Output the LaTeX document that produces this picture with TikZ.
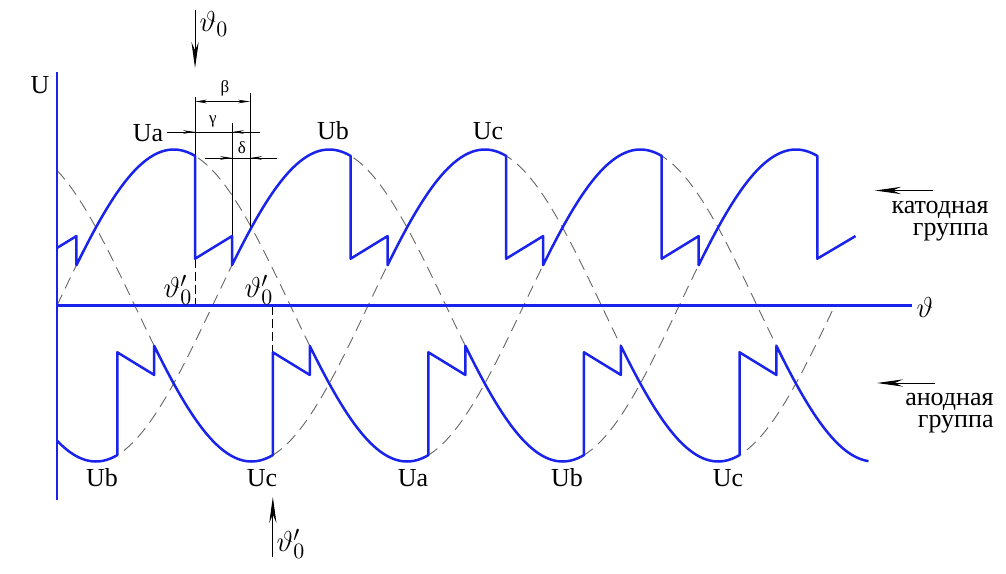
\documentclass[tikz,border=0pt]{standalone}
\usepackage{fontspec}
\setmainfont{Liberation Serif}
\usepackage{xcolor}
\usetikzlibrary{arrows.meta}
\definecolor{waveblue}{RGB}{25,35,235}

\begin{document}
\begin{tikzpicture}[x=0.5pt,y=0.5pt,
  declare function={px(\t)=57+1.2963*\t; py(\v)=-305.5+156*\v;},
  wave/.style={waveblue,line width=1.25pt,line join=round,samples=40},
  axisline/.style={waveblue,line width=1.1pt},
  phase/.style={black!60,line width=0.45pt,dash pattern=on 6pt off 3.5pt,samples=180},
  guide/.style={black,line width=0.4pt},
  firing/.style={guide,dash pattern=on 4.5pt off 2pt},
  dimarrow/.style={guide,-{Stealth[length=6pt,width=1.8pt]}},
  pointer/.style={black,line width=0.5pt,-{Stealth[length=13pt,width=3.6pt]}},
  lbl/.style={font=\fontsize{13}{15}\selectfont},
  thlbl/.style={font=\fontsize{15}{17}\selectfont},
  grp/.style={font=\fontsize{13}{10.8}\selectfont,anchor=north east,align=right,inner sep=0pt},
  greek/.style={font=\fontsize{8.5}{10}\selectfont}]
\useasboundingbox (0,0) rectangle (1006,-573);

% phase voltages
\draw[phase] plot[domain=0:560] ({px(\x)},{py(sin(\x))});
\draw[phase] plot[domain=0:586.5] ({px(\x)},{py(sin(\x-120))});
\draw[phase] plot[domain=0:600] ({px(\x)},{py(sin(\x-240))});

% firing and dimension guides
\coordinate (fireA) at ({px(106.5)},-68);
\coordinate (fireB) at ({px(166.5)},-497);
\draw[guide] ({px(106.5)},-97) -- ({px(106.5)},{py(sin(106.5))});
\draw[firing] ({px(106.5)},{py(0.3)}) -- ({px(106.5)},{py(0)});
\draw[guide] ({px(135)},-123) -- ({px(135)},{py(0.445)});
\draw[guide] (250,-93) -- (250,-230);
\draw[firing] ({px(166.5)},{py(0)}) -- ({px(166.5)},{py(-0.3)});

% beta
\draw[guide,{Stealth[length=6pt,width=1.8pt]}-{Stealth[length=6pt,width=1.8pt]}] (195,-101.5) -- (250,-101.5);
\node[greek] (beta) at (225,-88) {β};
% gamma
\draw[guide] (167,-132) -- (260,-132);
\draw[dimarrow] (167,-132) -- (195,-132);
\draw[dimarrow] (260,-132) -- (232,-132);
\node[greek] (gamma) at (213,-121) {γ};
% delta
\draw[guide] (205,-158) -- (277,-158);
\draw[dimarrow] (205,-158) -- (232,-158);
\draw[dimarrow] (277,-158) -- (250,-158);
\node[greek] (delta) at (242,-148) {δ};

% cathode group
\draw[wave] ({px(0)},{py(0.369)}) -- ({px(15)},{py(0.445)})
  -- plot[domain=15:106.5] ({px(\x)},{py(sin(\x))})
  -- ({px(106.5)},{py(0.3)}) -- ({px(135)},{py(0.445)})
  -- plot[domain=135:226.5] ({px(\x)},{py(sin(\x-120))})
  -- ({px(226.5)},{py(0.3)}) -- ({px(255)},{py(0.445)})
  -- plot[domain=255:346.5] ({px(\x)},{py(sin(\x-240))})
  -- ({px(346.5)},{py(0.3)}) -- ({px(375)},{py(0.445)})
  -- plot[domain=375:466.5] ({px(\x)},{py(sin(\x))})
  -- ({px(466.5)},{py(0.3)}) -- ({px(495)},{py(0.445)})
  -- plot[domain=495:586.5] ({px(\x)},{py(sin(\x-120))})
  -- ({px(586.5)},{py(0.3)}) -- ({px(616)},{py(0.445)});

% anode group
\draw[wave] plot[domain=0:46.5] ({px(\x)},{py(sin(\x-120))})
  -- ({px(46.5)},{py(-0.3)}) -- ({px(75)},{py(-0.445)})
  -- plot[domain=75:166.5] ({px(\x)},{py(sin(\x-240))})
  -- ({px(166.5)},{py(-0.3)}) -- ({px(195)},{py(-0.445)})
  -- plot[domain=195:286.5] ({px(\x)},{py(sin(\x))})
  -- ({px(286.5)},{py(-0.3)}) -- ({px(315)},{py(-0.445)})
  -- plot[domain=315:406.5] ({px(\x)},{py(sin(\x-120))})
  -- ({px(406.5)},{py(-0.3)}) -- ({px(435)},{py(-0.445)})
  -- plot[domain=435:526.5] ({px(\x)},{py(sin(\x-240))})
  -- ({px(526.5)},{py(-0.3)}) -- ({px(555)},{py(-0.445)})
  -- plot[domain=555:626] ({px(\x)},{py(sin(\x))});

% axes
\coordinate (O) at (57,-305.5);
\coordinate (yTop) at (57,-72);
\coordinate (yBot) at (57,-500);
\coordinate (xEnd) at (912,-305.5);
\draw[axisline] (yTop) -- (yBot);
\draw[axisline] (O) -- (xEnd);
\node[lbl] (lblU) at (40,-85) {U};
\node[thlbl] (lblTh) at (925,-307) {$\vartheta$};

% firing pointers
\coordinate (thTop) at ({px(106.5)},-10);
\coordinate (thBot) at ({px(166.5)},-557);
\draw[pointer] (thTop) -- (fireA);
\draw[pointer] (thBot) -- (fireB);
\node[thlbl] (th0) at (214,-24) {$\vartheta_0$};
\node[thlbl] (th0b) at (291,-544) {$\vartheta'_0$};
\node[thlbl] (th0l) at (178,-290) {$\vartheta'_0$};
\node[thlbl] (th0r) at (259,-290) {$\vartheta'_0$};

% phase labels
\node[lbl] (ua1) at (148,-133) {Ua};
\node[lbl] (ub1) at (333,-131) {Ub};
\node[lbl] (uc1) at (488,-131) {Uc};
\node[lbl] (ub2) at (102,-478) {Ub};
\node[lbl] (uc2) at (262,-478) {Uc};
\node[lbl] (ua2) at (413,-478) {Ua};
\node[lbl] (ub3) at (567,-478) {Ub};
\node[lbl] (uc3) at (728,-478) {Uc};

% groups
\coordinate (katTail) at (933,-190.5);
\coordinate (katTip) at (875,-190.5);
\coordinate (anTail) at (935,-383);
\coordinate (anTip) at (877,-383);
\draw[pointer] (katTail) -- (katTip);
\draw[pointer] (anTail) -- (anTip);
\node[grp] (kat) at (989,-201) {катодная\\группа};
\node[grp] (an) at (994,-393) {анодная\\группа};
\end{tikzpicture}
\end{document}
